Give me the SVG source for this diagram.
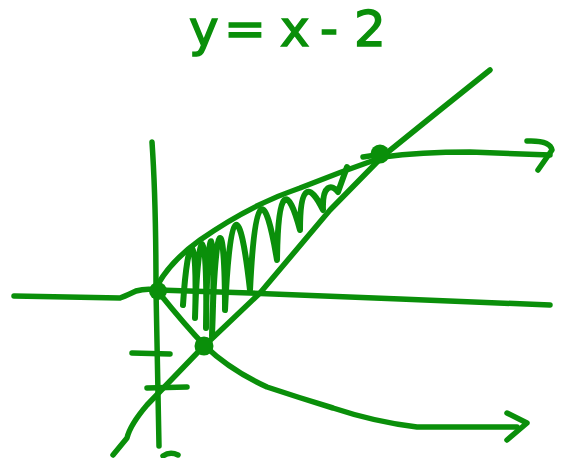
<svg xmlns="http://www.w3.org/2000/svg" width="561" height="458" viewBox="0 0 561 458">
<style>
.ink{fill:none;stroke:#0a8f0a;stroke-width:5.5;stroke-linecap:round;stroke-linejoin:round}
.dot{fill:#0a8f0a}
.lbl{font-family:"DejaVu Sans",sans-serif;font-size:50px;fill:#0a8f0a;stroke:#0a8f0a;stroke-width:1.5}
</style>
<g id="title">
<text class="lbl" y="46"><tspan x="189">y</tspan><tspan x="224">=</tspan><tspan x="280">x</tspan><tspan x="320">-</tspan><tspan x="354">2</tspan></text>
</g>
<g id="axes">
<path class="ink" d="M14,296 L120,298 Q130,294 136,291 Q146,288 158,290 L250,293 L400,299 L550,305"/>
<path class="ink" d="M152,142 Q156,200 156,290 L159,446"/>
<path class="ink" d="M132,353 L170,354"/>
<path class="ink" d="M147,388 L187,387"/>
<path class="ink" d="M163,456 Q170,451 178,455"/>
</g>
<g id="connectors">
<path id="line" class="ink" d="M113,455 L127,438 Q130,425 147,405 L200,350 L260,293 L330,210 L383,156 L440,110 L490,70"/>
<path id="upper" class="ink" d="M158,284 Q172,260 200,240 Q250,205 300,188 Q340,172 383,157 Q420,152 470,152 L550,155"/>
<path class="ink" d="M527,141 Q550,140 552,150 L538,170"/>
<path class="ink" d="M363,157 L383,154"/>
<path id="lower" class="ink" d="M160,294 Q185,325 205,346 Q230,370 267,387 Q300,398 333,408 Q375,422 417,427 L517,427"/>
<path class="ink" d="M507,413 L527,423 L507,440"/>
<path id="hatch" class="ink" style="stroke-width:6" d="M183,305 C188,227 198,227 195,318 C198,218 208,218 206,328 C207,211 217,211 212,336 C215,210 225,210 225,310 C230,200 240,200 250,290 C255,188 265,188 277,260 C278,185 288,185 300,230 C300,183 310,183 323,210 C322,184 332,184 338,192 L347,167"/>
</g>
<g id="points">
<circle class="dot" cx="158" cy="291" r="9"/>
<circle class="dot" cx="204" cy="346" r="9.5"/>
<circle class="dot" cx="380" cy="154" r="9.5"/>
</g>
</svg>
